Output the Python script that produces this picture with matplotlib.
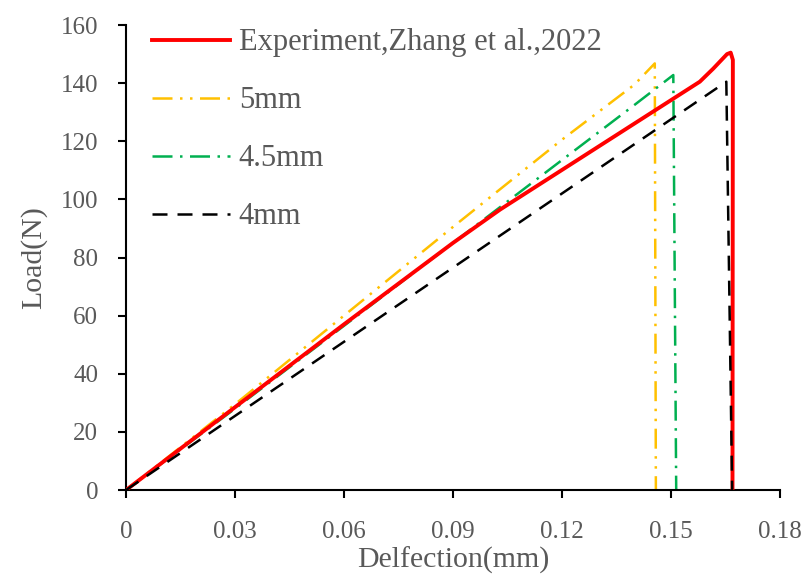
import matplotlib
matplotlib.use("Agg")
import matplotlib.pyplot as plt

# data
exp_x = [0, 0.03, 0.06, 0.09, 0.103, 0.158, 0.1617, 0.1655, 0.1665, 0.1671, 0.1670]
exp_y = [0, 28.5, 57, 85, 96.5, 140.5, 145, 150, 150.5, 148, 0]

mm5_x = [0, 0.03, 0.06, 0.09, 0.12, 0.14, 0.1456, 0.1459]
mm5_y = [0, 29.5, 60, 90.5, 120.5, 139.5, 146.8, 0]

mm45_x = [0, 0.03, 0.06, 0.09, 0.12, 0.14, 0.1507, 0.1515]
mm45_y = [0, 28, 56.5, 85, 113.5, 132.5, 142.8, 0]

mm4_x = [0, 0.03, 0.06, 0.09, 0.12, 0.14, 0.1653, 0.1669]
mm4_y = [0, 25.5, 51, 76.5, 102, 119, 140.5, 0]

x_ticks = [0, 0.03, 0.06, 0.09, 0.12, 0.15, 0.18]
x_labels = ["0", "0.03", "0.06", "0.09", "0.12", "0.15", "0.18"]
y_ticks = [0, 20, 40, 60, 80, 100, 120, 140, 160]

grey = "#595959"
plt.rcParams["font.family"] = ["Liberation Serif", "DejaVu Serif"]

fig = plt.figure(figsize=(8.1, 5.82), dpi=100)
ax = fig.add_axes([0.1556, 0.158, 0.807, 0.799])

ax.plot(exp_x, exp_y, color="#FF0000", lw=2.8, label="Experiment,Zhang et al.,2022", zorder=3)
ax.plot(mm5_x, mm5_y, color="#FFC000", lw=1.8, dashes=[8, 3, 1, 3, 1, 3], label="5mm")
ax.plot(mm45_x, mm45_y, color="#00B050", lw=1.8, dashes=[8, 3, 1, 3], label="4.5mm")
ax.plot(mm4_x, mm4_y, color="black", lw=1.8, dashes=[6, 4], label="4mm", zorder=4)

ax.set_xlim(0, 0.18)
ax.set_ylim(0, 160)
ax.set_xticks(x_ticks)
ax.set_xticklabels(x_labels)
ax.set_yticks(y_ticks)

for s in ["top", "right"]:
    ax.spines[s].set_visible(False)
for s in ["left", "bottom"]:
    ax.spines[s].set_linewidth(1.5)
ax.tick_params(direction="out", length=6, width=1.5, labelsize=18, labelcolor=grey)
ax.tick_params(axis="x", pad=16)
ax.tick_params(axis="y", pad=14)

ax.set_xlabel("Delfection(mm)", fontsize=21.5, color=grey, labelpad=3)
ax.set_ylabel("Load(N)", fontsize=21.5, color=grey, labelpad=10)

leg = ax.legend(loc="upper left", bbox_to_anchor=(0.04, 0.993), frameon=False,
                borderaxespad=0, borderpad=0,
                fontsize=22, handlelength=2.55, labelspacing=0.95, handletextpad=0.28)
for t in leg.get_texts():
    t.set_color(grey)

fig.savefig("out.png", dpi=100)
